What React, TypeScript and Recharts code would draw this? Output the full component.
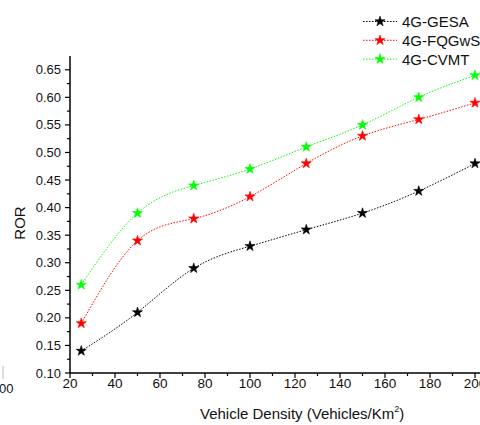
import React from 'react';
import { LineChart, Line, XAxis, YAxis, Customized, Symbols } from 'recharts';

const densities = [25, 50, 75, 100, 125, 150, 175, 200];
const gesa = [0.14, 0.21, 0.29, 0.33, 0.36, 0.39, 0.43, 0.48];
const fqgws = [0.19, 0.34, 0.38, 0.42, 0.48, 0.53, 0.56, 0.59];
const cvmt = [0.26, 0.39, 0.44, 0.47, 0.51, 0.55, 0.6, 0.64];
const seriesKeys = ['gesa', 'fqgws', 'cvmt'];
const seriesNames = ['4G-GESA', '4G-FQGwS', '4G-CVMT'];
const seriesColors = ['#000000', '#ff0000', '#00ff00'];
const xTicks = [20, 30, 40, 50, 60, 70, 80, 90, 100, 110, 120, 130, 140, 150, 160, 170, 180, 190, 200];
const xMajorTicks = [20, 40, 60, 80, 100, 120, 140, 160, 180, 200];
const yTicks = [0.1, 0.125, 0.15, 0.175, 0.2, 0.225, 0.25, 0.275, 0.3, 0.325, 0.35, 0.375, 0.4, 0.425, 0.45, 0.475, 0.5, 0.525, 0.55, 0.575, 0.6, 0.625, 0.65];
const yMajorTicks = [0.1, 0.15, 0.2, 0.25, 0.3, 0.35, 0.4, 0.45, 0.5, 0.55, 0.6, 0.65];

const data = densities.map((d, i) => ({ density: d, gesa: gesa[i], fqgws: fqgws[i], cvmt: cvmt[i] }));

const FONT = "Arial, 'Liberation Sans', sans-serif";

const isMajor = (list: number[], v: number) => list.some((m) => Math.abs(m - v) < 1e-6);

const XTick = (props: any) => {
  const { x, y, payload } = props;
  const major = isMajor(xMajorTicks, payload.value);
  return (
    <g>
      <line x1={x} x2={x} y1={y} y2={y + (major ? 5 : 3)} stroke="#000" strokeWidth={1.2} />
      {major && (
        <text x={x} y={y + 15} textAnchor="middle" fontSize={13.5} fontFamily={FONT} fill="#111">
          {payload.value}
        </text>
      )}
    </g>
  );
};

const YTick = (props: any) => {
  const { x, y, payload } = props;
  const major = isMajor(yMajorTicks, payload.value);
  return (
    <g>
      <line x1={x} x2={x - (major ? 5 : 3)} y1={y} y2={y} stroke="#000" strokeWidth={1.2} />
      {major && (
        <text x={x - 9} y={y} dy="0.35em" textAnchor="end" fontSize={13} fontFamily={FONT} fill="#111">
          {payload.value.toFixed(2)}
        </text>
      )}
    </g>
  );
};

const makeDot = (color: string) => (p: any) => (
  <Symbols key={`d-${p.index}`} cx={p.cx} cy={p.cy} type="star" size={32} fill={color} stroke={color} strokeWidth={0.6} />
);

const Extras = () => (
  <g>
    <text x={20} y={223} transform="rotate(-90 20 223)" dy="0.35em" textAnchor="middle" fontSize={15} fontFamily={FONT} fill="#111">
      ROR
    </text>
    <text x={200} y={419} fontSize={15} fontFamily={FONT} fill="#111">
      Vehicle Density (Vehicles/Km<tspan dy={-7} fontSize={9}>2</tspan><tspan dy={7}>)</tspan>
    </text>
    <text x={-1} y={393} fontSize={13} fontFamily={FONT} fill="#111">00</text>
    <line x1={3} x2={3} y1={366} y2={379} stroke="#bbb" strokeWidth={1} />
    {seriesNames.map((name, i) => {
      const cy = 21.5 + i * 18.8;
      return (
        <g key={name}>
          <line x1={363} x2={397} y1={cy} y2={cy} stroke={seriesColors[i]} strokeWidth={1} strokeDasharray="1.5 1.5" />
          <Symbols cx={380} cy={cy} type="star" size={32} fill={seriesColors[i]} stroke={seriesColors[i]} strokeWidth={0.6} />
          <text x={402} y={cy} dy="0.36em" fontSize={15} fontFamily={FONT} fill="#111">{name}</text>
        </g>
      );
    })}
  </g>
);

export default function App() {
  return (
    <div style={{ position: 'absolute', left: 0, top: 0, width: 480, height: 425, overflow: 'hidden', background: '#fff' }}>
      <LineChart width={540} height={425} data={data} margin={{ top: 56, right: 20, left: 10, bottom: 22 }}>
        <XAxis
          dataKey="density"
          type="number"
          domain={[20, 220]}
          ticks={xTicks}
          interval={0}
          tickSize={0}
          tickMargin={0}
          tickLine={false}
          tick={<XTick />}
          height={30}
          axisLine={{ stroke: '#000', strokeWidth: 1.5 }}
          allowDataOverflow
        />
        <YAxis
          type="number"
          domain={[0.1, 0.675]}
          ticks={yTicks}
          interval={0}
          tickSize={0}
          tickMargin={0}
          tickLine={false}
          tick={<YTick />}
          width={60}
          axisLine={{ stroke: '#000', strokeWidth: 1.5 }}
          allowDataOverflow
        />
        {seriesKeys.map((k, i) => (
          <Line
            key={k}
            dataKey={k}
            name={seriesNames[i]}
            type="natural"
            stroke={seriesColors[i]}
            strokeWidth={1}
            strokeDasharray="1.5 1.5"
            dot={makeDot(seriesColors[i])}
            isAnimationActive={false}
          />
        ))}
        <Customized component={Extras} />
      </LineChart>
    </div>
  );
}
